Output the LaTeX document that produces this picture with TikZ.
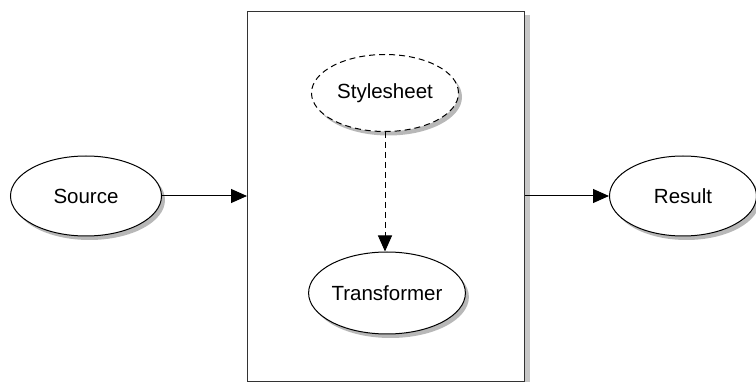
\documentclass[tikz,border=0pt]{standalone}
\usepackage{fontspec}
\setmainfont{Liberation Sans}
\usetikzlibrary{shapes.geometric,shadows,arrows.meta}
\begin{document}
\begin{tikzpicture}[x=1pt,y=-1pt,
  every node/.style={font=\fontsize{20.5}{24}\selectfont},
  oval/.style={ellipse,draw,line width=1pt,fill=white,inner sep=0pt,
    drop shadow={shadow xshift=3.5pt,shadow yshift=-4pt,fill=black!28,opacity=1}},
  conn/.style={line width=1pt,-{Triangle[length=16pt,width=14pt]}},
  frameshadow/.style={fill=black!22,draw=none}]
\useasboundingbox (0,0) rectangle (756,382);
\fill[frameshadow] (524,15) rectangle (530,382);
\node[draw,line width=1.4pt,draw=black!80,minimum width=277pt,minimum height=370pt,inner sep=0pt,anchor=north west] (frame) at (247,11) {};
\node[oval,minimum width=151pt,minimum height=80pt] (src) at (86,196) {Source};
\node[oval,minimum width=147pt,minimum height=80pt] (res) at (683,196) {Result};
\node[oval,dashed,dash pattern=on 6pt off 4pt,minimum width=147pt,minimum height=77pt] (sty) at (385,93) {Stylesheet};
\node[oval,minimum width=149pt,minimum height=82pt] (tr) at (387,293) {Transformer};
\draw[conn] (src.east) -- (src.east -| frame.west);
\draw[conn] (res.west -| frame.east) -- (res.west);
\draw[conn,dashed,dash pattern=on 6pt off 4pt] (sty.south) -- (sty.south |- tr.north);
\end{tikzpicture}
\end{document}
